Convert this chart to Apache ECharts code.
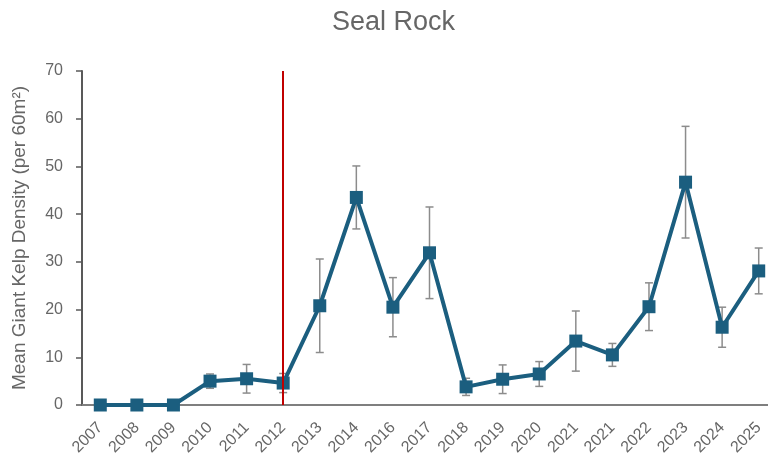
<!DOCTYPE html>
<html>
<head>
<meta charset="utf-8">
<script src="https://cdn.jsdelivr.net/npm/echarts@6/dist/echarts.min.js"></script>
<style>
  html, body { margin: 0; padding: 0; background: #fff; }
  #chart { width: 768px; height: 468px; }
</style>
</head>
<body>
<div id="chart"></div>
<script>
// years on the x axis (2021 appears twice in the source chart)
const years = ['2007', '2008', '2009', '2010', '2011', '2012', '2013', '2014', '2016', '2017',
  '2018', '2019', '2020', '2021', '2021', '2022', '2023', '2024', '2025'];
// mean giant kelp density
const meanDensity = [0, 0, 0, 5.0, 5.5, 4.6, 20.8, 43.5, 20.5, 31.9,
  3.8, 5.4, 6.5, 13.4, 10.5, 20.6, 46.7, 16.3, 28.1];
// half height of the error bars
const errDensity = [0, 0, 0, 1.5, 3.0, 2.0, 9.8, 6.6, 6.2, 9.6,
  1.8, 3.0, 2.6, 6.3, 2.4, 5.0, 11.7, 4.2, 4.8];
const markYear = 5; // index of the 2012 marker line

const textColor = '#666666';
const lineColor = '#1B5E7F';

const chart = echarts.init(document.getElementById('chart'));

const option = {
  animation: false,
  title: {
    text: 'Seal Rock',
    left: 327,
    top: 4,
    textStyle: {
      fontFamily: 'Liberation Sans',
      fontWeight: 'normal',
      fontSize: 27,
      color: textColor
    }
  },
  grid: {
    left: 82,
    top: 71,
    bottom: 63,
    width: 695,
    containLabel: false,
    outerBoundsMode: 'none'
  },
  xAxis: {
    type: 'category',
    data: years,
    boundaryGap: true,
    axisLine: { lineStyle: { color: '#7f7f7f', width: 2 } },
    axisTick: { show: false },
    axisLabel: {
      rotate: 45,
      margin: 20,
      fontFamily: 'Liberation Sans',
      fontSize: 16,
      color: textColor
    }
  },
  yAxis: {
    type: 'value',
    min: 0,
    max: 70,
    interval: 10,
    name: 'Mean Giant Kelp Density (per 60m²)',
    nameLocation: 'middle',
    nameGap: 53,
    nameTextStyle: {
      fontFamily: 'Liberation Sans',
      fontSize: 19,
      color: textColor
    },
    axisLine: { show: true, lineStyle: { color: '#595959', width: 2 } },
    axisTick: { show: true, length: 6, lineStyle: { color: '#595959', width: 1.5 } },
    splitLine: { show: false },
    axisLabel: {
      margin: 19,
      fontFamily: 'Liberation Sans',
      fontSize: 16,
      color: textColor
    }
  },
  series: [
    {
      type: 'custom',
      name: 'error',
      z: 1,
      data: meanDensity.map((v, i) => [i, v - errDensity[i], v + errDensity[i]]),
      renderItem: function (params, api) {
        if (errDensity[params.dataIndex] === 0) return;
        const lo = api.coord([api.value(0), api.value(1)]);
        const hi = api.coord([api.value(0), api.value(2)]);
        const cap = 4;
        const style = { stroke: '#8c8c8c', lineWidth: 1.5 };
        return {
          type: 'group',
          children: [
            { type: 'line', shape: { x1: lo[0], y1: lo[1], x2: hi[0], y2: hi[1] }, style: style },
            { type: 'line', shape: { x1: hi[0] - cap, y1: hi[1], x2: hi[0] + cap, y2: hi[1] }, style: style },
            { type: 'line', shape: { x1: lo[0] - cap, y1: lo[1], x2: lo[0] + cap, y2: lo[1] }, style: style }
          ]
        };
      }
    },
    {
      type: 'line',
      name: 'Seal Rock',
      z: 3,
      data: meanDensity,
      symbol: 'rect',
      symbolSize: 13,
      lineStyle: { color: lineColor, width: 4 },
      itemStyle: { color: lineColor },
      markLine: {
        silent: true,
        symbol: 'none',
        label: { show: false },
        lineStyle: { color: '#C00000', width: 2, type: 'solid' },
        data: [{ xAxis: markYear }]
      }
    }
  ]
};

chart.setOption(option);
</script>
</body>
</html>
